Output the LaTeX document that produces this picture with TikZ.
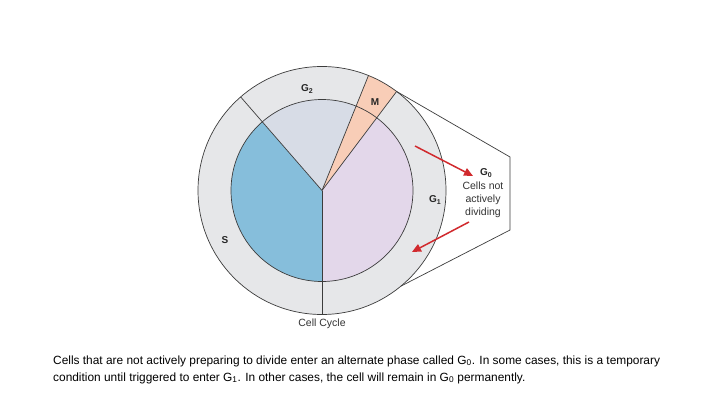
\documentclass[tikz,border=0pt]{standalone}
\usepackage{fontspec}
\setmainfont{Liberation Sans}
\usetikzlibrary{arrows.meta}
\definecolor{ringgrey}{HTML}{E6E7E9}
\definecolor{gtwo}{HTML}{D7DCE6}
\definecolor{mcol}{HTML}{F8CDB7}
\definecolor{gone}{HTML}{E3D7EA}
\definecolor{scol}{HTML}{86BEDB}
\definecolor{linec}{HTML}{3C3C3C}
\definecolor{arrowred}{HTML}{D12A2E}
\newcommand{\Gsub}[1]{G\raisebox{-0.35ex}{\scriptsize #1}}
\begin{document}
\begin{tikzpicture}[x=1pt,y=1pt,
  edge/.style={draw=linec,line width=0.7pt},
  phase/.style={font=\bfseries\fontsize{10}{12}\selectfont,text=black!85},
  redarrow/.style={draw=arrowred,line width=1.5pt,-{Triangle[length=9pt,width=8pt]}},
  small/.style={font=\fontsize{10.5}{13}\selectfont,text=black!80,align=center}]
\useasboundingbox (0,0) rectangle (720,405);
\fill[white] (0,0) rectangle (720,405);
\coordinate (C) at (322,214.5);
\def\Ro{124}
\def\Ri{91}
% outer ring
\fill[ringgrey] (C) circle (\Ro);
\fill[mcol] (C) -- ++(53:\Ro) arc[start angle=53,end angle=68,radius=\Ro] -- cycle;
% inner wedges
\fill[scol] (C) -- ++(131:\Ri) arc[start angle=131,end angle=270,radius=\Ri] -- cycle;
\fill[gtwo] (C) -- ++(68:\Ri) arc[start angle=68,end angle=131,radius=\Ri] -- cycle;
\fill[mcol] (C) -- ++(53:\Ri) arc[start angle=53,end angle=68,radius=\Ri] -- cycle;
\fill[gone] (C) -- ++(-90:\Ri) arc[start angle=-90,end angle=53,radius=\Ri] -- cycle;
\draw[edge] (C) circle (\Ro);
\draw[edge] (C) circle (\Ri);
% boundary points
\path (C) ++(53:\Ro) coordinate (pM1);
\path (C) ++(68:\Ro) coordinate (pM2);
\path (C) ++(131:\Ro) coordinate (pS);
\path (C) ++(-90:\Ro) coordinate (pD);
\path (C) ++(-50.5:\Ro) coordinate (pB);
\draw[edge] (C) -- (pM1);
\draw[edge] (C) -- (pM2);
\draw[edge] (C) -- (pS);
\draw[edge] (C) -- (pD);
% callout
\coordinate (k1) at (510,248);
\coordinate (k2) at (510,175);
\draw[edge] (pM1) -- (k1) -- (k2) -- (pB);
% arrows
\coordinate (a1s) at (415,259);
\coordinate (a1e) at (473,229);
\coordinate (a2s) at (469,183);
\coordinate (a2e) at (412,153);
\draw[redarrow] (a1s) -- (a1e);
\draw[redarrow] (a2s) -- (a2e);
% labels
\node[phase] (lG2) at (307,316) {\Gsub{2}};
\node[phase] (lM) at (375,303) {M};
\node[phase] (lG1) at (435,205) {\Gsub{1}};
\node[phase] (lS) at (225,165) {S};
\node[phase] (lG0) at (486,232) {\Gsub{0}};
\node[small] (lCells) at (483,205) {Cells not\\actively\\dividing};
\node[small] (lCycle) at (322,81) {Cell Cycle};
\node[anchor=base west,align=left,inner sep=0pt,font=\fontsize{11.9}{17}\selectfont,text=black] (cap) at (53,24)
 {Cells that are not actively preparing to divide enter an alternate phase called G\textsubscript{0}. In some cases, this is a temporary\\
  condition until triggered to enter G\textsubscript{1}. In other cases, the cell will remain in G\textsubscript{0} permanently.};
\end{tikzpicture}
\end{document}
